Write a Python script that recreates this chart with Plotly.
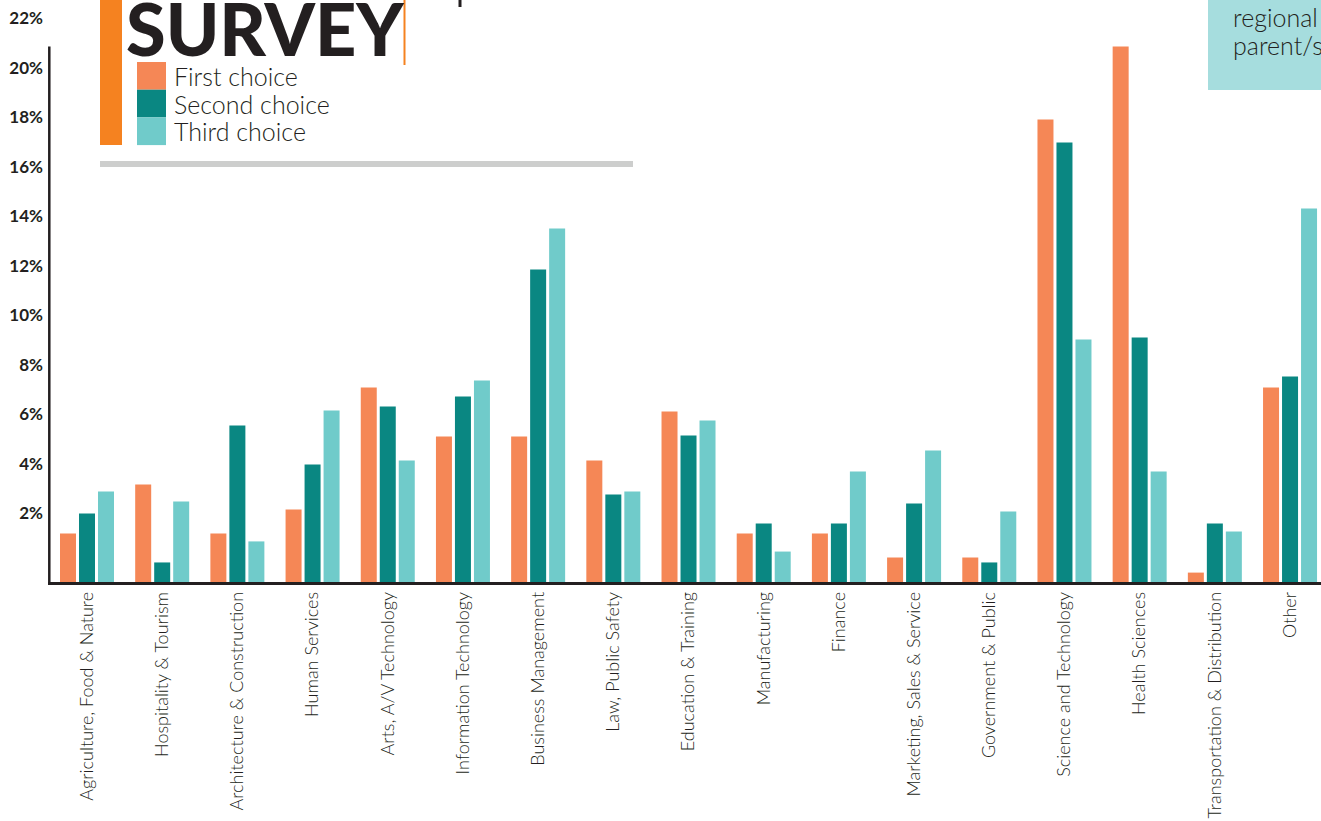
import plotly.graph_objects as go

# Career cluster preferences, percent of respondents
categories = [
    "Agriculture, Food & Nature", "Hospitality & Tourism", "Architecture & Construction",
    "Human Services", "Arts, A/V Technology", "Information Technology",
    "Business Management", "Law, Public Safety", "Education & Training",
    "Manufacturing", "Finance", "Marketing, Sales & Service", "Government & Public",
    "Science and Technology", "Health Sciences", "Transportation & Distribution", "Other",
]
first_choice = [1.96, 3.94, 1.96, 2.93, 7.86, 5.88, 5.88, 4.91, 6.89,
                1.96, 1.96, 0.99, 0.99, 18.69, 21.64, 0.38, 7.86]
second_choice = [2.77, 0.79, 6.32, 4.75, 7.09, 7.49, 12.63, 3.54, 5.92,
                 2.36, 2.36, 3.17, 0.79, 17.76, 9.88, 2.36, 8.30]
third_choice = [3.66, 3.25, 1.64, 6.93, 4.91, 8.14, 14.28, 3.66, 6.53,
                1.23, 4.46, 5.31, 2.85, 9.80, 4.46, 2.04, 15.09]

series_names = ["First choice", "Second choice", "Third choice"]
tick_values = [2, 4, 6, 8, 10, 12, 14, 16, 18, 20, 22]
tick_labels = ["2%", "4%", "6%", "8%", "10%", "12%", "14%", "16%", "18%", "20%", "22%"]

ORANGE = "#F58756"
TEAL = "#0A8782"
AQUA = "#70CBCA"
ACCENT = "#F58220"
INK = "#231F20"
colors = [ORANGE, TEAL, AQUA]

W, H = 1321, 821
PLOT_L, PLOT_R, PLOT_T, PLOT_B = 48, 1321, 10, 582
PX_PER_UNIT = 24.75


def px(x):
    return (x - PLOT_L) / (PLOT_R - PLOT_L)


def py(y):
    return (PLOT_B - y) / (PLOT_B - PLOT_T)


fig = go.Figure()
for name, vals, col in zip(series_names, [first_choice, second_choice, third_choice], colors):
    fig.add_trace(go.Bar(x=categories, y=vals, name=name, marker=dict(color=col, line=dict(width=0)),
                         showlegend=False))

group_px = 75.19
x0 = -(87 - PLOT_L) / group_px
x1 = x0 + (PLOT_R - PLOT_L) / group_px
y_top = (PLOT_B - PLOT_T) / PX_PER_UNIT

shapes = []
# vertical axis line, running up to the tallest bar
shapes.append(dict(type="line", xref="paper", yref="y", x0=px(49.3), x1=px(49.3), y0=0,
                   y1=max(first_choice + second_choice + third_choice),
                   line=dict(color=INK, width=2.5)))
# header decorations
shapes.append(dict(type="rect", xref="paper", yref="paper", x0=px(100), x1=px(122), y0=py(145), y1=py(-5),
                   fillcolor=ACCENT, line=dict(width=0), layer="above"))
shapes.append(dict(type="line", xref="paper", yref="paper", x0=px(404.5), x1=px(404.5), y0=py(65), y1=py(-5),
                   line=dict(color=ACCENT, width=2)))
shapes.append(dict(type="line", xref="paper", yref="paper", x0=px(460), x1=px(460), y0=py(7), y1=py(-5),
                   line=dict(color=INK, width=3)))
shapes.append(dict(type="rect", xref="paper", yref="paper", x0=px(100), x1=px(633), y0=py(167), y1=py(161),
                   fillcolor="#CDCECD", line=dict(width=0)))
shapes.append(dict(type="rect", xref="paper", yref="paper", x0=px(1208), x1=px(1330), y0=py(90), y1=py(-5),
                   fillcolor="#A6DDDE", line=dict(width=0)))

annotations = []
annotations.append(dict(text="SURVEY", xref="paper", yref="paper", x=px(124), y=py(28),
                        xanchor="left", yanchor="middle", showarrow=False,
                        font=dict(family="Lato", size=72, color=INK, weight=900)))

# legend swatches and labels
for i, (name, col) in enumerate(zip(series_names, colors)):
    top = 62 + i * 27.7
    shapes.append(dict(type="rect", xref="paper", yref="paper", x0=px(137), x1=px(166),
                       y0=py(top + 27.7), y1=py(top), fillcolor=col, line=dict(width=0)))
    annotations.append(dict(text=name, xref="paper", yref="paper", x=px(172), y=py(top + 14),
                            xanchor="left", yanchor="middle", showarrow=False,
                            font=dict(family="Lato", size=25, color=INK, weight=300)))

annotations.append(dict(text="regional", xref="paper", yref="paper", x=px(1231), y=py(17),
                        xanchor="left", yanchor="middle", showarrow=False, align="left",
                        font=dict(family="Lato", size=25, color=INK, weight=300)))
annotations.append(dict(text="parent/s", xref="paper", yref="paper", x=px(1231), y=py(45),
                        xanchor="left", yanchor="middle", showarrow=False, align="left",
                        font=dict(family="Lato", size=25, color=INK, weight=300)))

fig.update_layout(
    template="none",
    width=W, height=H,
    margin=dict(l=PLOT_L, r=W - PLOT_R, t=PLOT_T, b=H - PLOT_B),
    paper_bgcolor="white", plot_bgcolor="white",
    barmode="group", bargap=0.242, bargroupgap=0.158,
    shapes=shapes, annotations=annotations,
    xaxis=dict(type="category", range=[x0, x1], showgrid=False, zeroline=False,
               showline=True, linecolor=INK, linewidth=2.5, ticks="", tickangle=-90,
               automargin=False, tickfont=dict(family="Lato", size=18, color=INK, weight=300)),
    yaxis=dict(range=[0, y_top], showgrid=False, zeroline=False, showline=False, ticks="",
               tickvals=tick_values, ticktext=tick_labels, ticklabelshift=-19, ticklabelstandoff=4,
               automargin=False, tickfont=dict(family="Lato", size=17, color=INK, weight="bold")),
)

fig.write_html("out.html")
